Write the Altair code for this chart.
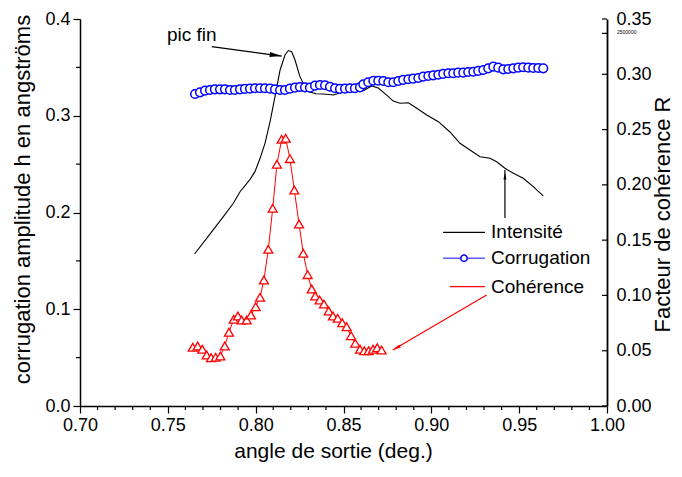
import altair as alt
import pandas as pd

# ---------------- data ----------------
coh_x = [0.7642, 0.7670, 0.7696, 0.7721, 0.7746, 0.7772, 0.7799, 0.7824, 0.7848, 0.7875,
         0.7899, 0.7920, 0.7949, 0.7973, 0.8000, 0.8025, 0.8047, 0.8072, 0.8097, 0.8121,
         0.8148, 0.8171, 0.8195, 0.8220, 0.8247, 0.8271, 0.8296, 0.8319, 0.8339, 0.8364,
         0.8389, 0.8416, 0.8440, 0.8467, 0.8493, 0.8518, 0.8543, 0.8567, 0.8594, 0.8618,
         0.8643, 0.8668, 0.8692, 0.8717]
coh_y = [0.0531, 0.0543, 0.0513, 0.0461, 0.0437, 0.0440, 0.0452, 0.0543, 0.0667, 0.0784,
         0.0814, 0.0778, 0.0778, 0.0823, 0.0898, 0.0983, 0.1140, 0.1417, 0.1788, 0.2186,
         0.2412, 0.2421, 0.2237, 0.1953, 0.1646, 0.1381, 0.1188, 0.1058, 0.0995, 0.0959,
         0.0922, 0.0859, 0.0814, 0.0793, 0.0753, 0.0717, 0.0636, 0.0567, 0.0513, 0.0500,
         0.0500, 0.0513, 0.0527, 0.0506]

corr_x = [0.7655, 0.7683, 0.7712, 0.7740, 0.7768, 0.7797, 0.7825, 0.7854, 0.7882, 0.7911,
          0.7939, 0.7968, 0.7996, 0.8025, 0.8053, 0.8082, 0.8110, 0.8139, 0.8167, 0.8195,
          0.8224, 0.8252, 0.8281, 0.8309, 0.8338, 0.8366, 0.8395, 0.8423, 0.8452, 0.8480,
          0.8509, 0.8537, 0.8565, 0.8594, 0.8613, 0.8641, 0.8670, 0.8698, 0.8727, 0.8755,
          0.8784, 0.8812, 0.8840, 0.8869, 0.8897, 0.8926, 0.8954, 0.8983, 0.9011, 0.9040,
          0.9068, 0.9097, 0.9125, 0.9153, 0.9182, 0.9210, 0.9239, 0.9267, 0.9296, 0.9324,
          0.9353, 0.9381, 0.9410, 0.9438, 0.9467, 0.9495, 0.9523, 0.9552, 0.9580, 0.9609,
          0.9637]
corr_y = [0.3225, 0.3242, 0.3259, 0.3266, 0.3273, 0.3273, 0.3273, 0.3266, 0.3266, 0.3273,
          0.3277, 0.3280, 0.3284, 0.3284, 0.3284, 0.3280, 0.3273, 0.3266, 0.3266, 0.3280,
          0.3290, 0.3297, 0.3294, 0.3290, 0.3311, 0.3318, 0.3315, 0.3300, 0.3284, 0.3277,
          0.3280, 0.3284, 0.3284, 0.3294, 0.3325, 0.3346, 0.3362, 0.3362, 0.3359, 0.3346,
          0.3346, 0.3359, 0.3370, 0.3377, 0.3383, 0.3390, 0.3404, 0.3411, 0.3418, 0.3424,
          0.3432, 0.3439, 0.3439, 0.3445, 0.3445, 0.3452, 0.3455, 0.3463, 0.3473, 0.3490,
          0.3507, 0.3497, 0.3480, 0.3483, 0.3490, 0.3497, 0.3501, 0.3497, 0.3494, 0.3494,
          0.3490]

int_x = [0.7652, 0.7721, 0.7816, 0.7873, 0.7911, 0.7968, 0.7996, 0.8025, 0.8053, 0.8082,
         0.8110, 0.8139, 0.8167, 0.8186, 0.8205, 0.8224, 0.8252, 0.8281, 0.8309, 0.8343,
         0.8385, 0.8442, 0.8499, 0.8565, 0.8613, 0.8660, 0.8698, 0.8746, 0.8783, 0.8822,
         0.8869, 0.8917, 0.8974, 0.9040, 0.9106, 0.9163, 0.9220, 0.9277, 0.9334, 0.9372,
         0.9419, 0.9467, 0.9523, 0.9580, 0.9637]
int_y = [0.1571, 0.1733, 0.1957, 0.2095, 0.2215, 0.2343, 0.2422, 0.2560, 0.2715, 0.2939,
         0.3197, 0.3473, 0.3628, 0.3674, 0.3662, 0.3576, 0.3404, 0.3300, 0.3246, 0.3227,
         0.3225, 0.3214, 0.3246, 0.3251, 0.3259, 0.3308, 0.3287, 0.3214, 0.3152, 0.3129,
         0.3135, 0.3077, 0.3008, 0.2939, 0.2832, 0.2715, 0.2646, 0.2577, 0.2560, 0.2525,
         0.2457, 0.2405, 0.2354, 0.2267, 0.2171]

series_names = ["Intensité", "Corrugation", "Cohérence"]
series_colors = ["#000000", "#5c5cff", "#ff0000"]

x_major = [0.70, 0.75, 0.80, 0.85, 0.90, 0.95, 1.00]
x_minor = [0.71, 0.72, 0.73, 0.74, 0.76, 0.77, 0.78, 0.79, 0.81, 0.82, 0.83, 0.84,
           0.86, 0.87, 0.88, 0.89, 0.91, 0.92, 0.93, 0.94, 0.96, 0.97, 0.98, 0.99]
yl_major = [0.0, 0.1, 0.2, 0.3, 0.4]
yl_minor = [0.05, 0.15, 0.25, 0.35]
yr_major = [0.0, 0.05, 0.10, 0.15, 0.20, 0.25, 0.30, 0.35]
yr_extra_tick = [0.337]
yr_extra_label = ["2500000"]

# annotation anchors (data units, left axis)
pic_text = {"x": 0.7495, "y": 0.3835, "t": "pic fin"}
arrows = pd.DataFrame({
    "x": [0.7750, 0.9419, 0.9315],
    "y": [0.3714, 0.1943, 0.1147],
    "x2": [0.8148, 0.9419, 0.8780],
    "y2": [0.3617, 0.2439, 0.0579],
    "c": ["black", "black", "red"],
})
heads = pd.DataFrame({
    "x": [0.8114, 0.9419, 0.8802],
    "y": [0.3626, 0.2377, 0.0599],
    "a": [97.6, 0.0, 239.6],
    "s": [144, 49, 64],
    "c": ["black", "black", "red"],
})
leg = pd.DataFrame({
    "name": series_names,
    "x1": [0.9067, 0.9067, 0.9106],
    "x2": [0.9305, 0.9305, 0.9305],
    "y": [0.1795, 0.1527, 0.1233],
    "tx": [0.9340, 0.9340, 0.9340],
})

# ---------------- chart ----------------
W, H = 527, 387
FONT = "Liberation Sans"
color_scale = alt.Scale(domain=series_names, range=series_colors)

x_scale = alt.Scale(domain=[0.70, 1.00], nice=False, zero=False)
yl_scale = alt.Scale(domain=[0.0, 0.4], nice=False, zero=False)
yr_scale = alt.Scale(domain=[0.0, 0.35], nice=False, zero=False)

x_axis = alt.Axis(values=x_major, format=".2f", tickSize=7, tickWidth=1.2, tickColor="black",
                  domainColor="black", domainWidth=1.5, labelFontSize=18, labelPadding=3,
                  labelColor="black", labelFlush=False, labelOverlap=False, grid=False,
                  title="angle de sortie (deg.)",
                  titleFontSize=21, titleFontWeight="normal", titleColor="black",
                  titleX=253, titleY=51, titleBaseline="alphabetic", titleAlign="center")
yl_axis = alt.Axis(values=yl_major, format=".1f", tickSize=7, tickWidth=1.2, tickColor="black",
                   domainColor="black", domainWidth=1.5, labelFontSize=18, labelPadding=3,
                   labelColor="black", labelFlush=False, labelOverlap=False, grid=False,
                   orient="left",
                   title="corrugation amplitude h en angströms", titleFontSize=22,
                   titleFontWeight="normal", titleColor="black", titleAngle=270,
                   titleX=-58, titleY=180, titleBaseline="middle", titleAlign="center")
yr_axis = alt.Axis(values=yr_major, format=".2f", tickSize=0, domainColor="black",
                   domainWidth=1.8, labelFontSize=18, labelPadding=9, labelColor="black",
                   labelFlush=False, labelOverlap=False,
                   grid=False, orient="right", title="Facteur de cohérence R",
                   titleFontSize=22, titleFontWeight="normal", titleColor="black",
                   titleAngle=270, titleX=55, titleY=195, titleBaseline="middle",
                   titleAlign="center")

X = alt.X("x:Q", scale=x_scale, axis=x_axis)
YL = alt.Y("y:Q", scale=yl_scale, axis=yl_axis)
YR = alt.Y("y:Q", scale=yr_scale, axis=yr_axis)

df_int = pd.DataFrame({"x": int_x, "y": int_y})
df_corr = pd.DataFrame({"x": corr_x, "y": corr_y})
df_coh = pd.DataFrame({"x": coh_x, "y": coh_y})

int_line = alt.Chart(df_int).mark_line(color="black", strokeWidth=1.1).encode(x=X, y=YL)
corr_line = alt.Chart(df_corr).mark_line(color="#0000ff", strokeWidth=1).encode(x=X, y=YL)
corr_pts = alt.Chart(df_corr).mark_point(shape="circle", size=75, color="#0000ff",
                                          fill="white", filled=False, strokeWidth=1.5,
                                          opacity=1).encode(x=X, y=YL)

xminor = alt.Chart(pd.DataFrame({"x": x_minor})).mark_rule(color="black", strokeWidth=1.2).encode(
    x=X, y=alt.value(H), y2=alt.value(H + 4))
lminor = alt.Chart(pd.DataFrame({"y": yl_minor})).mark_rule(color="black", strokeWidth=1.2).encode(
    y=YL, x=alt.value(-4), x2=alt.value(0))

arrow_lines = alt.Chart(arrows).mark_rule(strokeWidth=1.2).encode(
    x=alt.X("x:Q", scale=x_scale, axis=x_axis), x2="x2:Q",
    y=alt.Y("y:Q", scale=yl_scale, axis=yl_axis), y2="y2:Q",
    color=alt.Color("c:N", scale=None))
arrow_heads = alt.Chart(heads).mark_point(shape="M0,-1L0.42,1L-0.42,1Z", filled=True,
                                          opacity=1).encode(
    x=X, y=YL, angle=alt.Angle("a:Q", scale=None), size=alt.Size("s:Q", scale=None),
    color=alt.Color("c:N", scale=None))
pic = alt.Chart(pd.DataFrame([pic_text])).mark_text(font=FONT, fontSize=19, align="left",
                                                   baseline="middle", color="black").encode(
    x=X, y=YL, text="t:N")

leg_lines = alt.Chart(leg).mark_rule(strokeWidth=1.3).encode(
    x=alt.X("x1:Q", scale=x_scale, axis=x_axis), x2="x2:Q",
    y=alt.Y("y:Q", scale=yl_scale, axis=yl_axis),
    color=alt.Color("name:N", scale=color_scale, legend=None))
leg_sym = alt.Chart(leg[leg["name"] == "Corrugation"]).mark_point(
    shape="circle", size=40, color="#0000ff", fill="white", filled=False, strokeWidth=1.5,
    opacity=1).encode(x=alt.X("x:Q", scale=x_scale, axis=x_axis), y=YL).transform_calculate(
    x="(datum.x1 + datum.x2) / 2")
leg_text = alt.Chart(leg).mark_text(font=FONT, fontSize=19, align="left", baseline="middle",
                                    color="black").encode(
    x=alt.X("tx:Q", scale=x_scale, axis=x_axis), y=YL, text="name:N")

left = alt.layer(int_line, corr_line, corr_pts, xminor, lminor, arrow_lines, arrow_heads,
                 pic, leg_lines, leg_sym, leg_text)

coh_line = alt.Chart(df_coh).mark_line(color="#ff0000", strokeWidth=1).encode(x=X, y=YR)
coh_pts = alt.Chart(df_coh).mark_point(shape="triangle-up", size=80, color="#ff0000",
                                        fill="white", filled=False, strokeWidth=1.3,
                                        opacity=1).encode(x=X, y=YR)
rticks = alt.Chart(pd.DataFrame({"y": yr_major + yr_extra_tick})).mark_rule(
    color="black", strokeWidth=1.2).encode(y=YR, x=alt.value(W - 5), x2=alt.value(W))
rextra = alt.Chart(pd.DataFrame({"y": [0.3385], "t": yr_extra_label})).mark_text(
    font=FONT, fontSize=5, align="left", baseline="middle", color="black").encode(
    y=YR, x=alt.value(W + 10), text="t:N")

right = alt.layer(coh_line, coh_pts, rticks, rextra)

chart = alt.layer(left, right).resolve_scale(y="independent").properties(
    width=W, height=H,
    autosize=alt.AutoSizeParams(type="none"),
    padding={"left": 72, "top": 11, "right": 67, "bottom": 57},
    background="white",
).configure_view(stroke=None).configure_axis(labelFont=FONT, titleFont=FONT)

chart.save("out.html", embed_options={"renderer": "svg", "actions": False})
